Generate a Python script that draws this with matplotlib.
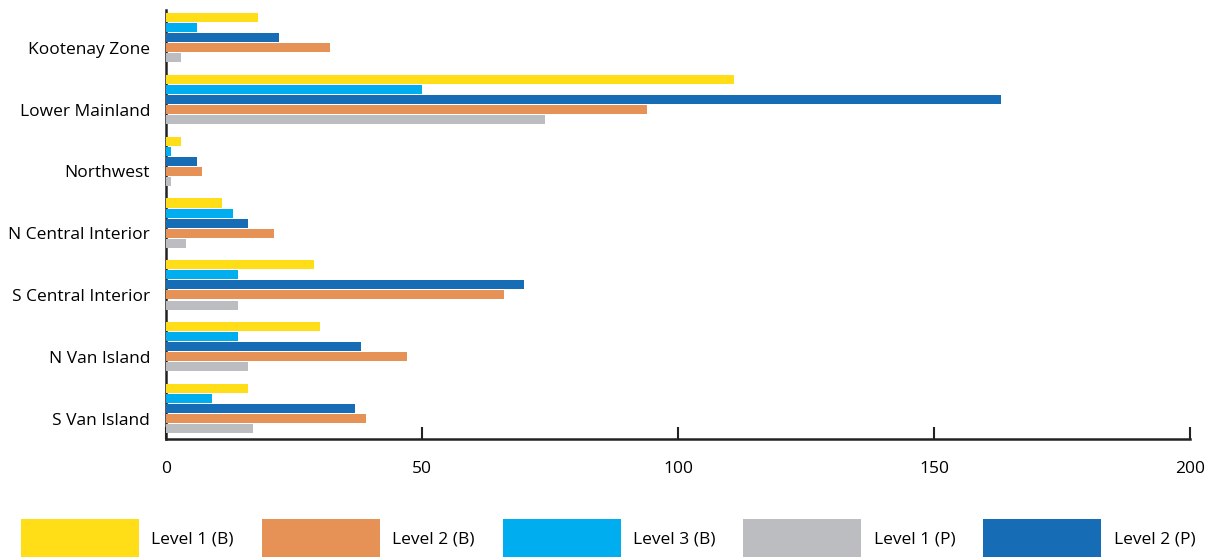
import numpy as np
import matplotlib
matplotlib.use('Agg')
import matplotlib.pyplot as plt

plt.rcParams['font.family'] = ['Open Sans', 'DejaVu Sans']

# ── data ─────────────────────────────────────────────
regions = ['Kootenay Zone', 'Lower Mainland', 'Northwest', 'N Central Interior',
           'S Central Interior', 'N Van Island', 'S Van Island']
level1_b = [18, 111, 3, 11, 29, 30, 16]
level3_b = [6, 50, 1, 13, 14, 14, 9]
level2_p = [22, 163, 6, 16, 70, 38, 37]
level2_b = [32, 94, 7, 21, 66, 47, 39]
level1_p = [3, 74, 1, 4, 14, 16, 17]
x_ticks = [0, 50, 100, 150, 200]

# series in bar order (top to bottom inside each group)
series = [
    ('Level 1 (B)', level1_b, '#FFDE17', -3),
    ('Level 3 (B)', level3_b, '#00AEEF', -2),
    ('Level 2 (P)', level2_p, '#166DB5', -1),
    ('Level 2 (B)', level2_b, '#E69155', 0),
    ('Level 1 (P)', level1_p, '#BCBDC0', 1),
]
legend_order = ['Level 1 (B)', 'Level 2 (B)', 'Level 3 (B)', 'Level 1 (P)', 'Level 2 (P)']

SLOT = 0.1626
BAR_H = 0.146

fig = plt.figure(figsize=(12.11, 5.58), dpi=100)
ax = fig.add_axes([166 / 1211, 1 - 439 / 558, (1190 - 166) / 1211, (439 - 10) / 558])

y = np.arange(len(regions))
handles = {}
for name, vals, col, off in series:
    b = ax.barh(y + off * SLOT, vals, height=BAR_H, color=col, label=name, zorder=3)
    handles[name] = b

ax.set_ylim(6.33, -0.61)
ax.set_xlim(0, 200)
ax.set_yticks(y)
ax.set_yticklabels(regions, fontsize=12.5)
ax.set_xticks(x_ticks)
ax.set_xticklabels([str(t) for t in x_ticks], fontsize=12.5)
ax.tick_params(axis='y', length=0, pad=11.5)
ax.tick_params(axis='x', direction='in', length=9, width=1.5, pad=16, color='#222222')

for s in ['top', 'right']:
    ax.spines[s].set_visible(False)
for s in ['left', 'bottom']:
    ax.spines[s].set_linewidth(1.8)
    ax.spines[s].set_color('#222222')
    ax.spines[s].set_zorder(1)

fig.legend([handles[n] for n in legend_order], legend_order,
           loc='lower left', bbox_to_anchor=(20 / 1211, 0.0), ncol=5,
           frameon=False, fontsize=12.5, borderpad=0, borderaxespad=0.05,
           handlelength=6.8, handleheight=3.0, handletextpad=0.7,
           columnspacing=1.62)

fig.savefig('out.png', dpi=100)
